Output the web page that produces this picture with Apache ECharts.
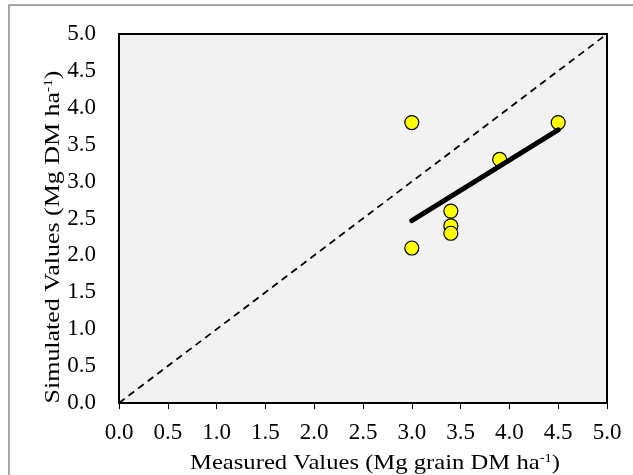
<!DOCTYPE html>
<html>
<head>
<meta charset="utf-8">
<script src="https://cdn.jsdelivr.net/npm/echarts@6/dist/echarts.min.js"></script>
<style>
  html, body { margin: 0; padding: 0; background: #fff; }
  #main { width: 633px; height: 475px; }
</style>
</head>
<body>
<div id="main"></div>
<script>
// measured (x) vs simulated (y) grain yield, Mg DM ha-1
var measured = [3.0, 3.0, 3.4, 3.4, 3.4, 3.9, 4.5];
var simulated = [3.8, 2.1, 2.6, 2.4, 2.3, 3.3, 3.8];
// 1:1 line and fitted trend line end points
var oneToOne = [[0, 0], [5, 5]];
var trendLine = [[3.0, 2.47], [4.5, 3.70]];
var axisMin = 0, axisMax = 5, axisStep = 0.5;

var points = measured.map(function (m, i) { return [m, simulated[i]]; });

var chart = echarts.init(document.getElementById("main"));
var font = "Liberation Serif";
var supStyle = { fontSize: 13, lineHeight: 13, verticalAlign: "top", fontFamily: font };

chart.setOption({
  animation: false,
  grid: {
    left: 119, top: 34, right: 26, bottom: 72,
    show: true,
    backgroundColor: "#f2f2f2",
    borderColor: "#000",
    borderWidth: 2
  },
  xAxis: {
    type: "value",
    min: axisMin, max: axisMax, interval: axisStep,
    axisLine: { show: true, lineStyle: { color: "#000", width: 2 } },
    axisTick: { show: true, length: 6, lineStyle: { color: "#000", width: 1 } },
    splitLine: { show: false },
    axisLabel: {
      color: "#000", fontFamily: font, fontSize: 23, margin: 18,
      formatter: function (v) { return v.toFixed(1); }
    }
  },
  yAxis: {
    type: "value",
    min: axisMin, max: axisMax, interval: axisStep,
    axisLine: { show: true, lineStyle: { color: "#000", width: 2 } },
    axisTick: { show: false },
    splitLine: { show: false },
    axisLabel: {
      color: "#000", fontFamily: font, fontSize: 23, margin: 23,
      formatter: function (v) { return v.toFixed(1); }
    }
  },
  graphic: [
    {
      type: "rect",
      shape: { x: 9, y: 5, width: 700, height: 600 },
      style: { fill: "none", stroke: "#888", lineWidth: 1.5 },
      silent: true
    },
    {
      type: "text",
      x: 375, y: 463,
      scaleX: 1.12,
      style: {
        text: "Measured Values (Mg grain DM ha{sup|-1})",
        font: "22px " + font,
        fill: "#000",
        align: "center",
        verticalAlign: "middle",
        rich: { sup: supStyle }
      }
    },
    {
      type: "text",
      x: 53, y: 237,
      rotation: Math.PI / 2,
      scaleX: 1.18,
      style: {
        text: "Simulated Values (Mg DM ha{sup|-1})",
        font: "22px " + font,
        fill: "#000",
        align: "center",
        verticalAlign: "middle",
        rich: { sup: supStyle }
      }
    }
  ],
  series: [
    {
      type: "line",
      data: oneToOne,
      symbol: "none",
      z: 2,
      lineStyle: { color: "#000", width: 1.8, type: [7, 5] }
    },
    {
      type: "scatter",
      data: points,
      symbol: "circle",
      symbolSize: 14,
      z: 3,
      itemStyle: { color: "#ffff00", borderColor: "#000", borderWidth: 1.2, opacity: 1 }
    },
    {
      type: "line",
      data: trendLine,
      symbol: "none",
      z: 4,
      lineStyle: { color: "#000", width: 5, cap: "round" }
    }
  ]
});
</script>
</body>
</html>
